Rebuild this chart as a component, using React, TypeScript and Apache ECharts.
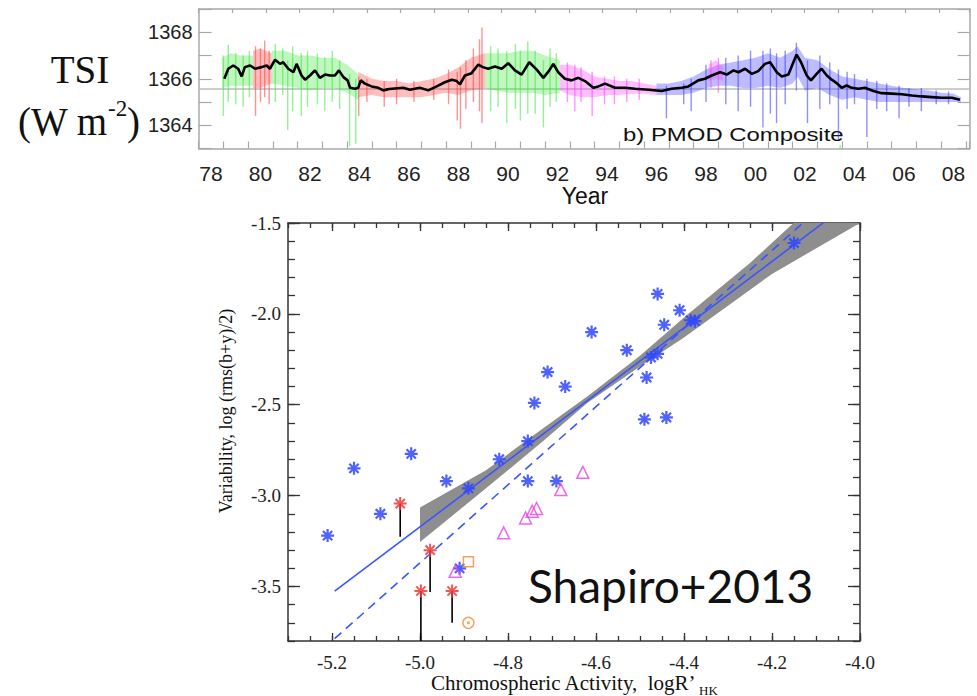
import React, { useEffect, useRef } from 'react';
import * as echarts from 'echarts';

// ---------- Top panel: PMOD composite TSI (x in axis-label years, "78" = 78) ----------
const TSI_T = [
  78.54, 78.7, 78.9, 79.1, 79.24, 79.37, 79.58, 79.78, 80.05, 80.25,
  80.38, 80.59, 80.79, 80.92, 81.12, 81.33, 81.46, 81.66, 81.8, 82.0,
  82.2, 82.4, 82.61, 82.81, 83.01, 83.17, 83.35, 83.52, 83.62, 83.82,
  83.95, 84.05, 84.22, 84.49, 84.76, 84.96, 85.2, 85.77, 86.04, 86.44,
  86.78, 87.12, 87.45, 87.73, 87.93, 88.06, 88.26, 88.53, 88.8, 88.98,
  89.2, 89.47, 89.75, 90.01, 90.28, 90.55, 90.86, 91.16, 91.43, 91.67,
  91.83, 92.03, 92.3, 92.57, 92.84, 93.11, 93.45, 93.65, 93.92, 94.32,
  94.73, 95.13, 95.67, 96.21, 96.61, 97.02, 97.29, 97.69, 97.96, 98.23,
  98.57, 98.84, 99.11, 99.31, 99.58, 99.85, 100.11, 100.38, 100.59, 100.86,
  101.06, 101.33, 101.53, 101.66, 101.84, 102.07, 102.24, 102.47, 102.67, 102.88,
  103.08, 103.28, 103.48, 103.68, 103.89, 104.16, 104.42, 104.76, 105.1, 105.5,
  105.91, 106.31, 106.72, 107.12, 107.52, 107.93, 108.26,
];
const TSI_V = [
  1366.0, 1366.43, 1366.57, 1366.43, 1366.1, 1366.5, 1366.57, 1366.43, 1366.5, 1366.57,
  1366.43, 1366.82, 1366.64, 1366.71, 1366.43, 1366.28, 1366.64, 1366.14, 1365.96, 1366.14,
  1366.36, 1366.04, 1366.18, 1366.14, 1366.14, 1366.36, 1366.07, 1365.93, 1365.61, 1365.57,
  1365.61, 1365.93, 1365.79, 1365.67, 1365.61, 1365.5, 1365.56, 1365.61, 1365.53, 1365.61,
  1365.5, 1365.67, 1365.85, 1365.96, 1365.9, 1365.76, 1366.14, 1366.24, 1366.61, 1366.5,
  1366.43, 1366.53, 1366.43, 1366.67, 1366.36, 1366.18, 1366.71, 1366.39, 1366.04, 1366.36,
  1366.64, 1366.28, 1366.0, 1365.93, 1366.04, 1365.9, 1365.61, 1365.67, 1365.79, 1365.61,
  1365.61, 1365.57, 1365.53, 1365.47, 1365.57, 1365.61, 1365.67, 1365.93, 1366.0, 1366.14,
  1366.28, 1366.18, 1366.36, 1366.28, 1366.43, 1366.21, 1366.33, 1366.64, 1366.71, 1366.28,
  1366.1, 1366.18, 1366.71, 1367.04, 1366.71, 1366.14, 1365.93, 1366.21, 1366.43, 1366.14,
  1365.96, 1365.81, 1365.61, 1365.71, 1365.61, 1365.57, 1365.61, 1365.47, 1365.38, 1365.36,
  1365.33, 1365.28, 1365.24, 1365.21, 1365.18, 1365.18, 1365.1,
];
const TSI_REF = 1365.56;

// dense noise envelopes of the daily values, per instrument segment
const GREEN1_T = [78.45, 78.8, 79.2, 79.7];
const GREEN1_HI = [1366.9, 1367.1, 1367.0, 1367.0];
const GREEN1_LO = [1365.6, 1365.7, 1365.7, 1365.7];
const RED1_T = [79.7, 80.0, 80.45];
const RED1_HI = [1367.2, 1367.3, 1367.1];
const RED1_LO = [1365.6, 1365.6, 1365.8];
const GREEN2_T = [80.45, 81.0, 81.5, 82.0, 82.5, 83.0, 83.5, 83.95];
const GREEN2_HI = [1367.2, 1367.2, 1367.0, 1367.0, 1366.9, 1366.9, 1366.6, 1366.2];
const GREEN2_LO = [1365.8, 1365.7, 1365.6, 1365.5, 1365.6, 1365.6, 1365.4, 1365.1];
const RED2_T = [83.95, 84.5, 85.0, 85.5, 86.0, 86.5, 87.0, 87.5, 88.0, 88.5, 89.07];
const RED2_HI = [1366.3, 1366.0, 1365.9, 1365.9, 1365.8, 1365.9, 1366.0, 1366.2, 1366.5, 1366.9, 1367.1];
const RED2_LO = [1365.2, 1365.3, 1365.2, 1365.2, 1365.2, 1365.2, 1365.3, 1365.4, 1365.3, 1365.5, 1365.6];
const GREEN3_T = [89.07, 89.5, 90.0, 90.5, 91.0, 91.5, 92.1];
const GREEN3_HI = [1367.1, 1367.1, 1367.1, 1367.2, 1367.2, 1367.0, 1366.8];
const GREEN3_LO = [1365.6, 1365.5, 1365.4, 1365.4, 1365.4, 1365.3, 1365.4];
const MAG1_T = [92.1, 92.5, 93.0, 93.5, 94.0, 94.5, 95.0, 95.5, 96.0];
const MAG1_HI = [1366.6, 1366.6, 1366.4, 1366.1, 1366.0, 1365.9, 1365.9, 1365.8, 1365.7];
const MAG1_LO = [1365.5, 1365.3, 1365.2, 1365.2, 1365.3, 1365.3, 1365.35, 1365.35, 1365.3];
const BLUE_T = [96.0, 96.5, 97.0, 97.5, 98.0, 98.5, 99.0, 99.5, 100.0, 100.5, 101.0, 101.5, 101.7, 102.0, 102.5, 103.0, 103.5, 104.0, 104.5, 105.0, 105.5, 106.0, 106.5, 107.0, 107.5, 108.0, 108.3];
const BLUE_HI = [1365.8, 1365.8, 1365.9, 1366.1, 1366.4, 1366.6, 1366.7, 1366.8, 1366.9, 1367.1, 1366.9, 1367.2, 1367.4, 1366.9, 1366.8, 1366.4, 1366.1, 1366.0, 1365.9, 1365.8, 1365.7, 1365.6, 1365.55, 1365.5, 1365.4, 1365.35, 1365.2];
const BLUE_LO = [1365.3, 1365.3, 1365.3, 1365.4, 1365.6, 1365.7, 1365.7, 1365.6, 1365.6, 1365.7, 1365.6, 1365.8, 1366.1, 1365.5, 1365.6, 1365.3, 1365.1, 1365.2, 1365.1, 1365.0, 1365.0, 1365.0, 1365.0, 1365.0, 1365.0, 1365.0, 1365.0];
const MAG2_T = [98.1, 98.4, 98.7];
const MAG2_HI = [1366.6, 1366.8, 1366.5];
const MAG2_LO = [1365.9, 1366.0, 1365.9];

// individual daily excursions [year, low, high]
const GREEN_SPIKES = [
  [78.5, 1364.4, 1367.0], [78.7, 1365.0, 1367.45], [79.0, 1364.9, 1367.1], [79.3, 1364.8, 1367.0],
  [79.55, 1365.2, 1367.2], [80.6, 1365.0, 1367.5], [80.9, 1365.3, 1367.3], [81.1, 1363.8, 1366.8],
  [81.3, 1364.6, 1367.4], [81.65, 1364.4, 1367.1], [81.9, 1364.8, 1367.2], [82.3, 1364.9, 1367.1],
  [82.6, 1364.6, 1366.9], [82.9, 1365.0, 1367.2], [83.2, 1364.7, 1366.8], [83.6, 1363.1, 1366.2],
  [83.85, 1363.2, 1366.0], [89.3, 1364.6, 1367.4], [89.6, 1364.8, 1367.3], [89.95, 1364.1, 1367.2],
  [90.3, 1364.7, 1367.5], [90.5, 1364.2, 1367.2], [90.8, 1364.5, 1367.6], [91.1, 1364.5, 1367.2],
  [91.43, 1363.9, 1366.8], [91.7, 1364.8, 1367.3], [91.95, 1365.0, 1367.1], [103.42, 1362.95, 1363.15],
];
const RED_SPIKES = [
  [79.8, 1364.4, 1367.4], [80.0, 1365.0, 1367.3], [80.17, 1365.2, 1367.65], [80.35, 1364.9, 1367.2],
  [83.97, 1364.4, 1366.1], [84.3, 1365.0, 1366.0], [85.0, 1364.8, 1365.9], [85.5, 1364.9, 1366.0],
  [86.2, 1365.0, 1365.9], [87.0, 1365.1, 1366.0], [87.6, 1364.9, 1366.4], [87.95, 1364.2, 1366.3],
  [88.08, 1363.85, 1366.5], [88.3, 1364.7, 1366.8], [88.6, 1365.0, 1367.3], [88.85, 1364.6, 1367.7],
  [88.95, 1364.1, 1368.2],
];
const MAGENTA_SPIKES = [
  [92.4, 1365.0, 1366.7], [92.7, 1364.6, 1366.6], [92.95, 1365.0, 1366.5], [93.4, 1364.4, 1366.3],
  [93.9, 1364.9, 1366.1], [94.3, 1364.9, 1366.1], [94.8, 1365.0, 1366.0], [95.3, 1365.1, 1366.0],
  [98.2, 1365.6, 1366.8], [98.5, 1365.4, 1366.9],
];
const BLUE_SPIKES = [
  [96.4, 1364.3, 1365.7], [97.1, 1364.9, 1365.8], [97.4, 1364.6, 1366.0], [98.0, 1365.0, 1366.6],
  [98.8, 1364.9, 1366.9], [99.3, 1364.6, 1367.0], [99.8, 1364.8, 1367.2], [100.3, 1363.9, 1367.2],
  [100.6, 1364.5, 1367.3], [100.85, 1364.1, 1367.1], [101.2, 1364.9, 1367.2], [101.65, 1365.5, 1367.55],
  [102.1, 1364.1, 1366.8], [102.6, 1364.7, 1367.0], [103.0, 1364.9, 1366.7], [103.35, 1363.35, 1366.4],
  [103.7, 1364.7, 1366.3], [104.0, 1364.9, 1366.2], [104.5, 1363.5, 1366.0], [104.9, 1364.7, 1365.9],
  [105.3, 1364.6, 1365.8], [105.8, 1364.3, 1365.7], [106.2, 1364.8, 1365.6], [106.7, 1364.6, 1365.6],
  [107.3, 1364.9, 1365.5], [107.8, 1364.9, 1365.45],
];

// ---------- Bottom panel: Shapiro+2013 ----------
const BLUE_X = [-5.21, -5.15, -5.09, -5.02, -4.94, -4.89, -4.91, -4.82, -4.755, -4.755, -4.69, -4.74, -4.71, -4.67, -4.61, -4.53, -4.46, -4.445, -4.41, -4.385, -4.375, -4.475, -4.46, -4.485, -4.49, -4.44, -4.15];
const BLUE_Y = [-3.22, -2.85, -3.1, -2.77, -2.92, -2.96, -3.4, -2.8, -2.7, -2.92, -2.92, -2.49, -2.32, -2.4, -2.1, -2.2, -1.89, -2.06, -1.98, -2.035, -2.04, -2.24, -2.22, -2.35, -2.58, -2.57, -1.61];
const RED_X = [-5.045, -4.977, -4.998, -4.927];
const RED_Y = [-3.044, -3.3, -3.525, -3.525];
const RED_LIMIT = [-3.227, -3.531, -3.8, -3.7];
const TRI_X = [-4.92, -4.81, -4.76, -4.745, -4.735, -4.68, -4.63];
const TRI_Y = [-3.416, -3.205, -3.123, -3.086, -3.071, -2.967, -2.872];
const SQ_X = [-4.89];
const SQ_Y = [-3.364];
const CIRC_X = [-4.89];
const CIRC_Y = [-3.7];
const FIT_X = [-5.194, -4.083];
const FIT_Y = [-3.526, -1.498];
const FIT2_X = [-5.194, -4.132];
const FIT2_Y = [-3.787, -1.505];
const BAND_UP_X = [-5.0, -4.85, -4.72, -4.62, -4.5, -4.4, -4.25, -4.151];
const BAND_UP_Y = [-3.065, -2.86, -2.63, -2.455, -2.23, -2.02, -1.72, -1.5];
const BAND_LO_X = [-4.0, -4.2, -4.4, -4.5, -4.62, -4.72, -4.85, -5.0];
const BAND_LO_Y = [-1.5, -1.78, -2.13, -2.29, -2.49, -2.7, -2.96, -3.255];

const C_GREEN = '#3ee63e';
const C_RED = '#ff3a3a';
const C_MAG = '#ff3cff';
const C_BLUE = '#3535ff';
const SC_BLUE = '#3046ff';
const SC_RED = '#ee3838';
const SC_MAG = '#e645e6';
const SC_ORANGE = '#f08a3a';
const ASTERISK = 'path://M0 7L14 7M7 0L7 14M2 2L12 12M2 12L12 2';

const SERIF = 'Liberation Serif';
const SANS = 'Liberation Sans';

function bandSeries(t: number[], hi: number[], lo: number[], color: string) {
  return {
    type: 'custom', xAxisIndex: 0, yAxisIndex: 0, silent: true, z: 2, clip: true,
    data: [[t[0], hi[0]]],
    renderItem: (_p: any, api: any) => {
      const up = t.map((x, i) => api.coord([x, hi[i]]));
      const dn = t.map((x, i) => api.coord([x, lo[i]])).reverse();
      return { type: 'polygon', shape: { points: up.concat(dn) }, style: { fill: color, opacity: 0.33 } };
    },
  };
}

function spikeSeries(data: number[][], color: string) {
  return {
    type: 'custom', xAxisIndex: 0, yAxisIndex: 0, silent: true, z: 3, clip: true,
    data,
    encode: { x: 0, y: [1, 2] },
    renderItem: (_p: any, api: any) => {
      const a = api.coord([api.value(0), api.value(1)]);
      const b = api.coord([api.value(0), api.value(2)]);
      return { type: 'line', shape: { x1: a[0], y1: a[1], x2: b[0], y2: b[1] }, style: { stroke: color, lineWidth: 1.4, opacity: 0.55 } };
    },
  };
}

function txt(x: number, y: number, text: string, font: string, align: string, extra: any = {}) {
  return {
    type: 'text', x, y, silent: true, ...extra,
    style: { text, font, fill: '#111', align, textAlign: align, verticalAlign: 'middle', textVerticalAlign: 'middle' },
  };
}

const serifLabel = (v: number) => '{s|' + v.toFixed(1) + '}';
const SERIF_RICH = { s: { fontFamily: SERIF, fontSize: 19, color: '#222' } };

export default function App() {
  const ref = useRef<HTMLDivElement>(null);
  useEffect(() => {
    if (!ref.current) return;
    const chart = echarts.init(ref.current, undefined, { renderer: 'svg' });
    const topLine = '#a8a8a8';
    const scLine = '#333';
    const option: any = {
      animation: false,
      backgroundColor: '#fff',
      textStyle: { fontFamily: SERIF },
      grid: [
        { left: 198.6, top: 9, width: 771, height: 139.5 },
        { left: 288, top: 223, width: 572, height: 418 },
        { left: 332, top: 223, width: 528, height: 418 },
        { left: 288, top: 223, width: 572, height: 363.478 },
      ],
      xAxis: [
        {
          gridIndex: 0, type: 'value', position: 'bottom', min: 77.5, max: 108.65, interval: 0.5,
          axisLine: { show: true, onZero: false, lineStyle: { color: topLine, width: 1.5 } },
          axisTick: { show: false }, splitLine: { show: false },
          axisLabel: {
            margin: 14, fontSize: 21, fontFamily: SANS, color: '#222',
            formatter: (v: number) => {
              const r = Math.round(v * 2) / 2;
              if (Number.isInteger(r) && r % 2 === 0) return String(r % 100).padStart(2, '0');
              return '';
            },
          },
        },
        {
          gridIndex: 0, type: 'value', position: 'bottom', min: 77.5, max: 108.65, interval: 1,
          axisLine: { show: false, onZero: false }, axisLabel: { show: false }, splitLine: { show: false },
          axisTick: { show: true, inside: true, length: 7, lineStyle: { color: topLine, width: 1.2 } },
        },
        {
          gridIndex: 0, type: 'value', position: 'top', min: 76.82, max: 107.97, interval: 1.36,
          axisLine: { show: true, onZero: false, lineStyle: { color: topLine, width: 1.5 } },
          axisLabel: { show: false }, splitLine: { show: false },
          axisTick: { show: true, inside: true, length: 4, lineStyle: { color: topLine, width: 1.2 } },
        },
        {
          gridIndex: 1, type: 'value', position: 'bottom', min: -5.3, max: -4.0, interval: 0.05,
          axisLine: { show: true, onZero: false, lineStyle: { color: scLine, width: 1.5 } },
          axisLabel: { show: false }, splitLine: { show: false },
          axisTick: { show: true, inside: true, length: 5, lineStyle: { color: scLine, width: 1.3 } },
        },
        {
          gridIndex: 1, type: 'value', position: 'top', min: -5.3, max: -4.0, interval: 0.05,
          axisLine: { show: true, onZero: false, lineStyle: { color: scLine, width: 1.5 } },
          axisLabel: { show: false }, splitLine: { show: false },
          axisTick: { show: true, inside: true, length: 5, lineStyle: { color: scLine, width: 1.3 } },
        },
        {
          gridIndex: 2, type: 'value', position: 'bottom', min: -5.2, max: -4.0, interval: 0.2,
          axisLine: { show: false, onZero: false }, splitLine: { show: false },
          axisTick: { show: true, inside: true, length: 8, lineStyle: { color: scLine, width: 1.3 } },
          axisLabel: { margin: 12, fontSize: 19, fontFamily: SERIF, color: '#222', formatter: serifLabel, rich: SERIF_RICH },
        },
        {
          gridIndex: 2, type: 'value', position: 'top', min: -5.2, max: -4.0, interval: 0.2,
          axisLine: { show: false, onZero: false }, splitLine: { show: false }, axisLabel: { show: false },
          axisTick: { show: true, inside: true, length: 8, lineStyle: { color: scLine, width: 1.3 } },
        },
        { gridIndex: 3, type: 'value', min: -5.3, max: -4.0, show: false },
      ],
      yAxis: [
        {
          gridIndex: 0, type: 'value', position: 'left', min: 1363, max: 1369, interval: 1,
          axisLine: { show: true, onZero: false, lineStyle: { color: topLine, width: 1.5 } },
          splitLine: { show: false },
          axisTick: { show: true, inside: true, length: 13, lineStyle: { color: topLine, width: 1.2 } },
          axisLabel: {
            margin: 6, fontSize: 20, fontFamily: SANS, color: '#222',
            formatter: (v: number) => (Math.round(v) % 2 === 0 ? String(Math.round(v)) : ''),
          },
        },
        {
          gridIndex: 0, type: 'value', position: 'right', min: 1363, max: 1369, interval: 1,
          axisLine: { show: true, onZero: false, lineStyle: { color: topLine, width: 1.5 } },
          splitLine: { show: false }, axisLabel: { show: false },
          axisTick: { show: true, inside: true, length: 12, lineStyle: { color: topLine, width: 1.2 } },
        },
        {
          gridIndex: 1, type: 'value', position: 'left', min: -3.8, max: -1.5, interval: 0.1,
          axisLine: { show: true, onZero: false, lineStyle: { color: scLine, width: 1.5 } },
          splitLine: { show: false }, axisLabel: { show: false },
          axisTick: { show: true, inside: true, length: 7, lineStyle: { color: scLine, width: 1.3 } },
        },
        {
          gridIndex: 1, type: 'value', position: 'right', min: -3.8, max: -1.5, interval: 0.1,
          axisLine: { show: true, onZero: false, lineStyle: { color: scLine, width: 1.5 } },
          splitLine: { show: false }, axisLabel: { show: false },
          axisTick: { show: true, inside: true, length: 7, lineStyle: { color: scLine, width: 1.3 } },
        },
        { gridIndex: 2, type: 'value', min: -3.8, max: -1.5, show: false },
        {
          gridIndex: 3, type: 'value', position: 'left', min: -3.5, max: -1.5, interval: 0.5,
          axisLine: { show: false, onZero: false }, splitLine: { show: false },
          axisTick: { show: true, inside: true, length: 12, lineStyle: { color: scLine, width: 1.3 } },
          axisLabel: { margin: 7, fontSize: 19, fontFamily: SERIF, color: '#222', formatter: serifLabel, rich: SERIF_RICH },
        },
        {
          gridIndex: 3, type: 'value', position: 'right', min: -3.5, max: -1.5, interval: 0.5,
          axisLine: { show: false, onZero: false }, splitLine: { show: false }, axisLabel: { show: false },
          axisTick: { show: true, inside: true, length: 12, lineStyle: { color: scLine, width: 1.3 } },
        },
      ],
      series: [
        {
          type: 'line', xAxisIndex: 0, yAxisIndex: 0, silent: true, z: 1, showSymbol: false,
          data: [[77.5, TSI_REF], [108.65, TSI_REF]], lineStyle: { color: '#bdbdbd', width: 1.3 },
        },
        bandSeries(GREEN1_T, GREEN1_HI, GREEN1_LO, C_GREEN),
        bandSeries(RED1_T, RED1_HI, RED1_LO, C_RED),
        bandSeries(GREEN2_T, GREEN2_HI, GREEN2_LO, C_GREEN),
        bandSeries(RED2_T, RED2_HI, RED2_LO, C_RED),
        bandSeries(GREEN3_T, GREEN3_HI, GREEN3_LO, C_GREEN),
        bandSeries(MAG1_T, MAG1_HI, MAG1_LO, C_MAG),
        bandSeries(BLUE_T, BLUE_HI, BLUE_LO, C_BLUE),
        bandSeries(MAG2_T, MAG2_HI, MAG2_LO, C_MAG),
        spikeSeries(GREEN_SPIKES, C_GREEN),
        spikeSeries(RED_SPIKES, C_RED),
        spikeSeries(MAGENTA_SPIKES, C_MAG),
        spikeSeries(BLUE_SPIKES, C_BLUE),
        {
          type: 'line', xAxisIndex: 0, yAxisIndex: 0, silent: true, z: 5, showSymbol: false,
          data: TSI_T.map((t, i) => [t, TSI_V[i]]), lineStyle: { color: '#000', width: 2.6 },
        },
        // bottom panel
        {
          type: 'custom', xAxisIndex: 3, yAxisIndex: 2, silent: true, z: 1, clip: true,
          data: [[BAND_UP_X[0], BAND_UP_Y[0]]],
          renderItem: (_p: any, api: any) => {
            const pts = BAND_UP_X.map((x, i) => api.coord([x, BAND_UP_Y[i]]))
              .concat(BAND_LO_X.map((x, i) => api.coord([x, BAND_LO_Y[i]])));
            return { type: 'polygon', shape: { points: pts }, style: { fill: '#8e8e8e' } };
          },
        },
        {
          type: 'line', xAxisIndex: 3, yAxisIndex: 2, silent: true, z: 3, showSymbol: false,
          data: FIT_X.map((x, i) => [x, FIT_Y[i]]), lineStyle: { color: '#3a55ff', width: 1.6 },
        },
        {
          type: 'line', xAxisIndex: 3, yAxisIndex: 2, silent: true, z: 3, showSymbol: false,
          data: FIT2_X.map((x, i) => [x, FIT2_Y[i]]), lineStyle: { color: '#3a55ff', width: 1.6, type: [9, 6] },
        },
        {
          type: 'custom', xAxisIndex: 3, yAxisIndex: 2, silent: true, z: 3, clip: true,
          data: RED_X.map((x, i) => [x, RED_Y[i], RED_LIMIT[i]]),
          encode: { x: 0, y: [1, 2] },
          renderItem: (_p: any, api: any) => {
            const a = api.coord([api.value(0), api.value(1)]);
            const b = api.coord([api.value(0), api.value(2)]);
            return { type: 'line', shape: { x1: a[0], y1: a[1], x2: b[0], y2: b[1] }, style: { stroke: '#000', lineWidth: 1.6 } };
          },
        },
        {
          type: 'scatter', xAxisIndex: 3, yAxisIndex: 2, silent: true, z: 4, symbol: ASTERISK, symbolSize: 13,
          data: BLUE_X.map((x, i) => [x, BLUE_Y[i]]),
          itemStyle: { color: 'rgba(0,0,0,0)', borderColor: SC_BLUE, borderWidth: 2.2, opacity: 0.85 },
        },
        {
          type: 'scatter', xAxisIndex: 3, yAxisIndex: 2, silent: true, z: 4, symbol: ASTERISK, symbolSize: 13,
          data: RED_X.map((x, i) => [x, RED_Y[i]]),
          itemStyle: { color: 'rgba(0,0,0,0)', borderColor: SC_RED, borderWidth: 2.0, opacity: 0.85 },
        },
        {
          type: 'scatter', xAxisIndex: 3, yAxisIndex: 2, silent: true, z: 4, symbol: 'triangle', symbolSize: 12,
          data: TRI_X.map((x, i) => [x, TRI_Y[i]]),
          itemStyle: { color: 'rgba(0,0,0,0)', borderColor: SC_MAG, borderWidth: 1.5 },
        },
        {
          type: 'scatter', xAxisIndex: 3, yAxisIndex: 2, silent: true, z: 4, symbol: 'rect', symbolSize: 10,
          data: SQ_X.map((x, i) => [x, SQ_Y[i]]),
          itemStyle: { color: 'rgba(0,0,0,0)', borderColor: SC_ORANGE, borderWidth: 1.5 },
        },
        {
          type: 'scatter', xAxisIndex: 3, yAxisIndex: 2, silent: true, z: 4, symbol: 'circle', symbolSize: 11,
          data: CIRC_X.map((x, i) => [x, CIRC_Y[i]]),
          itemStyle: { color: 'rgba(0,0,0,0)', borderColor: SC_ORANGE, borderWidth: 1.4 },
        },
        {
          type: 'scatter', xAxisIndex: 3, yAxisIndex: 2, silent: true, z: 4, symbol: 'circle', symbolSize: 3,
          data: CIRC_X.map((x, i) => [x, CIRC_Y[i]]),
          itemStyle: { color: SC_ORANGE },
        },
      ],
      graphic: [
        txt(80, 69, 'TSI', '39px "Liberation Serif"', 'center'),
        txt(18, 121, '(W m', '39px "Liberation Serif"', 'left'),
        txt(108, 108, '-2', '23px "Liberation Serif"', 'left'),
        txt(127, 121, ')', '39px "Liberation Serif"', 'left'),
        txt(623, 135, 'b) PMOD Composite', '18px "Liberation Sans"', 'left', { scaleX: 1.33 }),
        txt(585, 196, 'Year', '23px "Liberation Sans"', 'center'),
        txt(226, 411, 'Variability, log (rms(b+y)/2)', '18px "Liberation Serif"', 'center', { rotation: Math.PI / 2 }),
        txt(431, 683, 'Chromospheric Activity,  logR\u2019', '21px "Liberation Serif"', 'left'),
        txt(699, 690, 'HK', '13px "Liberation Serif"', 'left'),
        txt(528, 585, 'Shapiro+2013', '46px Lato', 'left'),
      ],
    };
    chart.setOption(option);
    return () => chart.dispose();
  }, []);
  return <div ref={ref} style={{ position: 'fixed', left: 0, top: 0, width: 977, height: 696, background: '#fff' }} />;
}
